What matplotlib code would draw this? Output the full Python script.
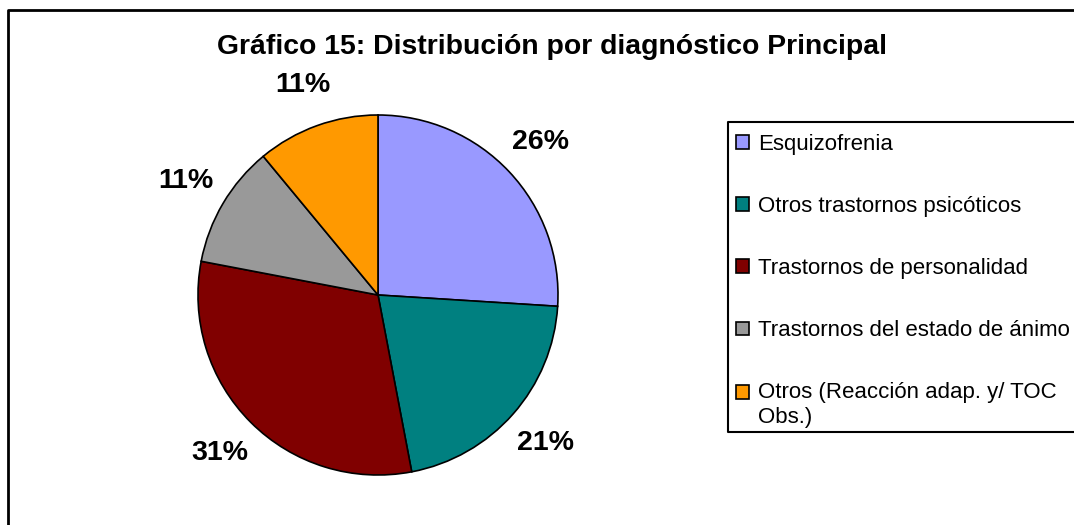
import matplotlib
matplotlib.use("Agg")
import matplotlib.pyplot as plt
from matplotlib.patches import Rectangle
from matplotlib.lines import Line2D
from matplotlib.legend_handler import HandlerPatch

plt.rcParams['font.family'] = ['Liberation Sans', 'DejaVu Sans']

# data
categorias = ['Esquizofrenia', 'Otros trastornos psicóticos', 'Trastornos de personalidad',
              'Trastornos del estado de ánimo', 'Otros (Reacción adap. y/ TOC\nObs.)']
porcentajes = [26, 21, 31, 11, 11]
colores = ['#9999FF', '#008080', '#800000', '#999999', '#FF9900']

W, H = 1074, 525
fig = plt.figure(figsize=(W / 100, H / 100), dpi=100)

# outer chart frame: only left and top sides are inside the image
fig.add_artist(Line2D([8 / W, 8 / W, 1.05], [-0.05, 1 - 10 / H, 1 - 10 / H],
                      transform=fig.transFigure, color='black', linewidth=2))
# legend box, its right side cut off by the image edge
fig.add_artist(Line2D([1.05, 728 / W, 728 / W, 1.05],
                      [1 - 122 / H, 1 - 122 / H, 1 - 432 / H, 1 - 432 / H],
                      transform=fig.transFigure, color='black', linewidth=1.5))

fig.text(552 / W, 1 - 47 / H, 'Gráfico 15: Distribución por diagnóstico Principal',
         ha='center', va='center', fontsize=20.4, fontweight='bold')

ax = fig.add_axes([198 / W, 50 / H, 360 / W, 360 / H])
wedges, _, autotexts = ax.pie(porcentajes, colors=colores, startangle=90, counterclock=False,
                              autopct='%1.0f%%', pctdistance=1.24,
                              wedgeprops=dict(edgecolor='black', linewidth=1.2))
for t in autotexts:
    t.set_fontsize(20.5)
    t.set_fontweight('bold')
ax.set_xlim(-1, 1)
ax.set_ylim(-1, 1)


def caja(legend, orig_handle, xdescent, ydescent, width, height, fontsize):
    dy = 0
    if '\n' in categorias[wedges.index(orig_handle)]:
        dy = fontsize * 0.58  # keep marker on the first line of a wrapped label
    return Rectangle((-xdescent, -ydescent + dy), width, height)


leg = fig.legend(wedges, categorias, loc='upper left', bbox_to_anchor=(736 / W, 1 - 134 / H),
                 fontsize=16, frameon=False, labelspacing=1.85,
                 handlelength=0.58, handleheight=0.58, handletextpad=0.4, borderpad=0,
                 borderaxespad=0, handler_map={w: HandlerPatch(patch_func=caja) for w in wedges})
for h in leg.legend_handles:
    h.set_edgecolor('black')
    h.set_linewidth(1.2)

fig.savefig('out.png', dpi=100)
